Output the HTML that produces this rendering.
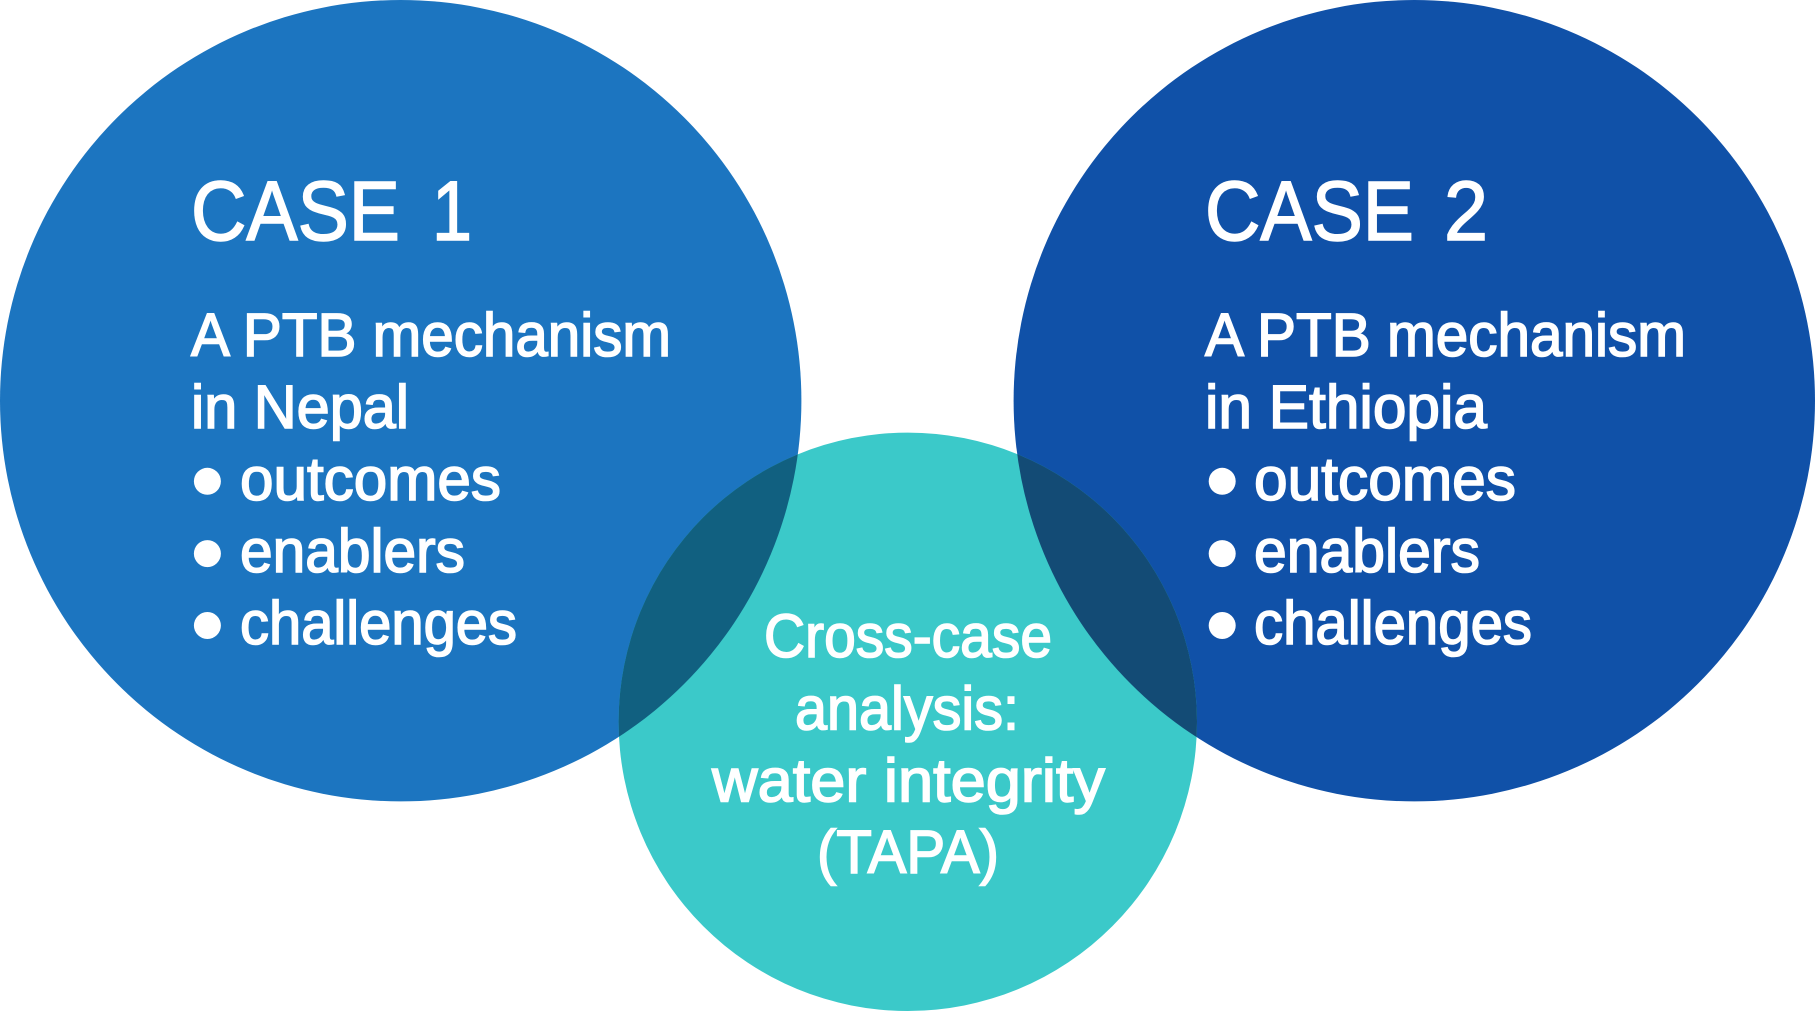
<!DOCTYPE html>
<html><head><meta charset="utf-8"><style>
html,body{margin:0;padding:0;background:#fff;width:1815px;height:1011px;overflow:hidden}
svg{display:block}
text{font-family:"Liberation Sans",sans-serif;fill:#fff;stroke:#fff;stroke-width:1.6}
</style></head><body>
<svg width="1815" height="1011" viewBox="0 0 1815 1011" xmlns="http://www.w3.org/2000/svg">
<defs>
<clipPath id="cl"><circle cx="400.7" cy="400.7" r="400.7"/></clipPath>
<clipPath id="cr"><circle cx="1414.3" cy="400.7" r="400.7"/></clipPath>
</defs>
<circle cx="400.7" cy="400.7" r="400.7" fill="#1c75c0"/>
<circle cx="1414.3" cy="400.7" r="400.7" fill="#1051a8"/>
<circle cx="907.8" cy="721.8" r="289.2" fill="#3bc9c9"/>
<circle cx="907.8" cy="721.8" r="289.2" fill="#116080" clip-path="url(#cl)"/>
<circle cx="907.8" cy="721.8" r="289.2" fill="#134b75" clip-path="url(#cr)"/>

<g font-size="84">
<text x="191" y="240.2" textLength="209" lengthAdjust="spacingAndGlyphs">CASE</text>
<text x="432" y="240.2" textLength="40" lengthAdjust="spacingAndGlyphs">1</text>
<text x="1205" y="240.2" textLength="209" lengthAdjust="spacingAndGlyphs">CASE</text>
<text x="1444" y="240.2" textLength="44" lengthAdjust="spacingAndGlyphs">2</text>
</g>
<g font-size="61">
<text x="191" y="356.2" textLength="480" lengthAdjust="spacingAndGlyphs">A PTB mechanism</text>
<text x="191" y="428" textLength="218" lengthAdjust="spacingAndGlyphs">in Nepal</text>
<text x="240" y="500.2" textLength="261" lengthAdjust="spacingAndGlyphs">outcomes</text>
<text x="240" y="572.2" textLength="225" lengthAdjust="spacingAndGlyphs">enablers</text>
<text x="240" y="644.2" textLength="277" lengthAdjust="spacingAndGlyphs">challenges</text>
<text x="1205" y="356.2" textLength="481" lengthAdjust="spacingAndGlyphs">A PTB mechanism</text>
<text x="1205" y="428" textLength="282" lengthAdjust="spacingAndGlyphs">in Ethiopia</text>
<text x="1254" y="500.2" textLength="262" lengthAdjust="spacingAndGlyphs">outcomes</text>
<text x="1254" y="572.2" textLength="226" lengthAdjust="spacingAndGlyphs">enablers</text>
<text x="1254" y="644.2" textLength="278" lengthAdjust="spacingAndGlyphs">challenges</text>
<text x="764" y="657" textLength="288" lengthAdjust="spacingAndGlyphs">Cross-case</text>
<text x="795" y="729.4" textLength="224" lengthAdjust="spacingAndGlyphs">analysis:</text>
<text x="712" y="801.4" textLength="393" lengthAdjust="spacingAndGlyphs">water integrity</text>
<text x="817" y="872.8" textLength="182" lengthAdjust="spacingAndGlyphs">(TAPA)</text>
</g>
<g fill="#fff">
<circle cx="207.4" cy="481.3" r="13.5"/>
<circle cx="207.4" cy="553.6" r="13.5"/>
<circle cx="207.4" cy="625.5" r="13.5"/>
<circle cx="1222.2" cy="481.3" r="13.5"/>
<circle cx="1222.2" cy="553.6" r="13.5"/>
<circle cx="1222.2" cy="625.5" r="13.5"/>
</g>
</svg>
</body></html>
